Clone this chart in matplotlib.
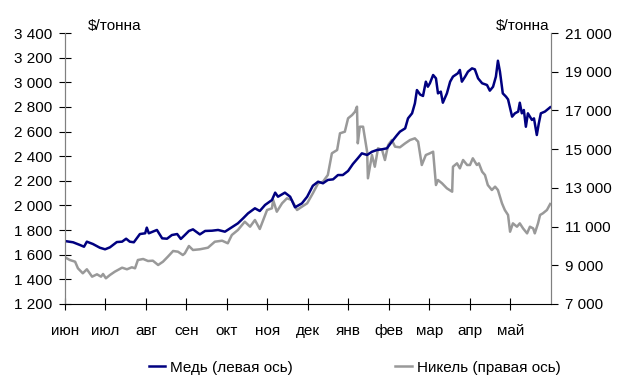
import matplotlib.pyplot as plt
from matplotlib.ticker import FuncFormatter

plt.rcParams['font.family'] = ['Liberation Sans', 'DejaVu Sans']

# месяцы (подписи оси X)
mois = ["июн", "июл", "авг", "сен", "окт", "ноя", "дек", "янв", "фев", "мар", "апр", "май"]

# медь, $/тонна (время в месяцах от начала июня)
t_cu = [0.00, 0.20, 0.37, 0.47, 0.54, 0.69, 0.86, 0.99, 1.11, 1.28, 1.41, 1.51, 1.60, 1.70,
        1.85, 1.98, 2.02, 2.07, 2.27, 2.40, 2.52, 2.64, 2.77, 2.86, 2.96, 3.06, 3.16, 3.33,
        3.46, 3.63, 3.78, 3.95, 4.12, 4.27, 4.40, 4.52, 4.69, 4.81, 4.94, 5.11, 5.19, 5.26,
        5.43, 5.56, 5.68, 5.85, 5.98, 6.12, 6.25, 6.37, 6.49, 6.62, 6.74, 6.86, 6.99, 7.11,
        7.23, 7.33, 7.46, 7.58, 7.70, 7.83, 7.95, 8.07, 8.20, 8.27, 8.40, 8.47, 8.57, 8.64,
        8.69, 8.77, 8.84, 8.91, 8.96, 9.01, 9.09, 9.16, 9.21, 9.28, 9.33, 9.43, 9.51, 9.58,
        9.70, 9.75, 9.80, 9.88, 9.95, 10.05, 10.12, 10.20, 10.30, 10.42, 10.49, 10.57, 10.64,
        10.69, 10.74, 10.81, 10.89, 10.94, 11.04, 11.11, 11.19, 11.23, 11.28, 11.33, 11.38,
        11.43, 11.53, 11.58, 11.65, 11.70, 11.75, 11.85, 11.98]
cuivre = [1711, 1701, 1679, 1665, 1706, 1687, 1657, 1644, 1660, 1703, 1706, 1730, 1706, 1701,
          1768, 1774, 1820, 1774, 1801, 1733, 1730, 1760, 1768, 1728, 1760, 1793, 1806, 1765,
          1793, 1795, 1801, 1787, 1823, 1855, 1896, 1936, 1977, 1955, 2004, 2044, 2104, 2071,
          2104, 2071, 1985, 2017, 2071, 2160, 2193, 2180, 2207, 2212, 2247, 2247, 2280, 2337,
          2383, 2423, 2410, 2436, 2450, 2456, 2464, 2518, 2572, 2599, 2626, 2707, 2748, 2829,
          2937, 2900, 2889, 3005, 2964, 2992, 3059, 3032, 2910, 2924, 2834, 2910, 3005, 3046,
          3073, 3100, 3005, 3046, 3086, 3113, 3105, 3032, 2992, 2978, 2932, 2964, 3046,
          3175, 3086, 2910, 2883, 2861, 2721, 2748, 2762, 2834, 2748, 2775, 2639,
          2748, 2694, 2707, 2572, 2667, 2748, 2762, 2797]

# никель, $/тонна
t_ni = [0.00, 0.12, 0.25, 0.32, 0.44, 0.54, 0.67, 0.79, 0.89, 0.94, 1.01, 1.11, 1.23, 1.41,
        1.53, 1.65, 1.73, 1.80, 1.93, 2.05, 2.17, 2.30, 2.42, 2.54, 2.67, 2.79, 2.91, 2.96,
        3.06, 3.16, 3.33, 3.53, 3.70, 3.88, 4.02, 4.12, 4.27, 4.44, 4.57, 4.69, 4.81, 4.99,
        5.11, 5.14, 5.23, 5.36, 5.48, 5.60, 5.73, 5.85, 5.98, 6.12, 6.25, 6.37, 6.49, 6.59,
        6.72, 6.79, 6.91, 6.99, 7.09, 7.16, 7.21, 7.23, 7.28, 7.36, 7.46, 7.48, 7.58, 7.65,
        7.73, 7.83, 7.90, 7.98, 8.07, 8.15, 8.27, 8.40, 8.52, 8.64, 8.72, 8.81, 8.91, 9.01,
        9.09, 9.16, 9.21, 9.31, 9.43, 9.56, 9.58, 9.68, 9.75, 9.83, 9.93, 10.00, 10.07, 10.17,
        10.22, 10.30, 10.37, 10.44, 10.54, 10.62, 10.69, 10.79, 10.86, 10.94, 10.99, 11.06,
        11.16, 11.23, 11.31, 11.41, 11.48, 11.56, 11.60, 11.68, 11.73, 11.80, 11.90, 11.98]
nickel = [9412, 9273, 9186, 8844, 8586, 8793, 8412, 8534, 8412, 8550, 8327, 8498, 8669, 8876,
          8793, 8896, 8844, 9273, 9325, 9221, 9237, 9015, 9186, 9444, 9738, 9702, 9531, 9619,
          9996, 9790, 9826, 9908, 10218, 10270, 10136, 10565, 10823, 11252, 10993, 11339, 10875, 11856,
          11943, 12373, 11768, 12202, 12460, 12373, 11856, 12027, 12202, 12718, 13235, 13318, 13664, 14785,
          14956, 15818, 15901, 16593, 16764, 16934, 17193, 15302, 16160, 16160, 14868, 13494, 14697, 14093,
          15043, 14956, 14439, 15214, 15472, 15128, 15095, 15302, 15472, 15560, 15386, 14181, 14697, 14785,
          14868, 13147, 13406, 13235, 12976, 12802, 14093, 14267, 14009, 14439, 14181, 14181, 14527, 14181,
          14267, 13835, 13664, 13147, 12889, 13062, 12889, 12202, 11856, 11598, 10735, 11166,
          10993, 11166, 10907, 10649, 10993, 10907, 10649, 11166, 11598, 11684, 11856, 12166]

def milliers(v, pos):
    # 3400 -> "3 400"
    return "{:,.0f}".format(v).replace(",", " ")

fs = 11

fig = plt.figure(figsize=(6.23, 3.76), dpi=100)
ax = fig.add_axes([0.1043, 0.1915, 0.7801, 0.7207])
ax2 = ax.twinx()

l1, = ax.plot(t_cu, cuivre, color="#000080", lw=1.8)
l2, = ax2.plot(t_ni, nickel, color="#999999", lw=1.8)
ax.set_zorder(ax2.get_zorder() + 1)
ax.patch.set_visible(False)

ax.set_xlim(0, 12)
ax.set_ylim(1200, 3400)
ax2.set_ylim(7000, 21000)
ax.set_yticks(range(1200, 3401, 200))
ax2.set_yticks(range(7000, 21001, 2000))
ax.set_xticks(range(12))
ax.set_xticklabels(mois)
ax.yaxis.set_major_formatter(FuncFormatter(milliers))
ax2.yaxis.set_major_formatter(FuncFormatter(milliers))

for a in (ax, ax2):
    a.spines["top"].set_visible(False)
    a.spines["left"].set_color("#808080")
    a.spines["right"].set_color("#808080")
ax.spines["bottom"].set_color("black")
ax2.spines["bottom"].set_visible(False)

ax.tick_params(axis="x", direction="inout", length=8.6, pad=10, labelsize=fs)
ax.tick_params(axis="y", direction="inout", length=8.6, pad=5, labelsize=fs)
ax2.tick_params(axis="y", direction="out", length=5, pad=5, labelsize=fs)

fig.text(0.141, 0.913, "$/тонна", fontsize=fs, ha="left", va="bottom")
fig.text(0.882, 0.913, "$/тонна", fontsize=fs, ha="right", va="bottom")

fig.legend([l1, l2], ["Медь (левая ось)", "Никель (правая ось)"], loc="center",
           bbox_to_anchor=(0.569, 0.022), ncol=2, frameon=False, fontsize=fs,
           handlelength=1.1, handletextpad=0.3, columnspacing=6.7)

fig.savefig("out.png", dpi=100)
